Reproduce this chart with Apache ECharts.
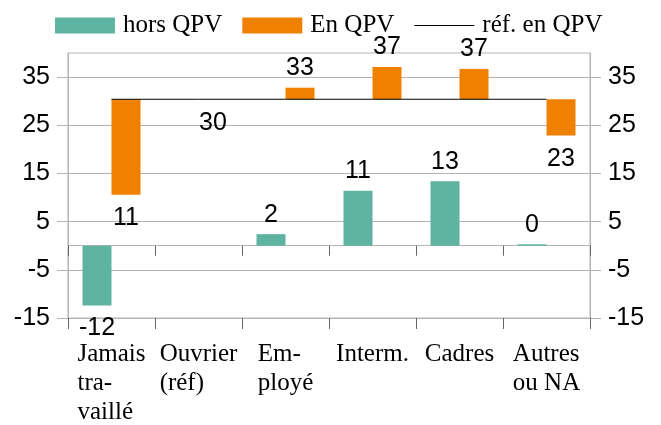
<!DOCTYPE html>
<html>
<head>
<meta charset="utf-8">
<script src="https://cdn.jsdelivr.net/npm/echarts@6/dist/echarts.min.js"></script>
<style>
  html, body { margin: 0; padding: 0; background: #fff; }
  #chart { width: 661px; height: 425px; }
</style>
</head>
<body>
<div id="chart"></div>
<script>
const categories = ['Jamais\ntra-\nvaillé', 'Ouvrier\n(réf)', 'Em-\nployé', 'Interm.', 'Cadres', 'Autres\nou NA']
const horsQPV = [-12.4, null, 2.4, 11.4, 13.4, 0.3]
const enQPV = [10.6, 30.4, 32.8, 37.1, 36.7, 22.9]
const refQPV = [30.4, 30.4, 30.4, 30.4, 30.4, 30.4]
const yTicks = [-15, -5, 5, 15, 25, 35]

const SANS = '"Liberation Sans", Arial, sans-serif'
const SERIF = '"Liberation Serif", "Times New Roman", serif'
const GRAY = '#b3b3b3'
const TEAL = '#5eb3a1'
const ORANGE = '#f08000'

// floating orange bars: invisible base + visible part from the reference line
const qpvBase = enQPV.map((v, i) => Math.min(v, refQPV[i]))
const qpvDelta = enQPV.map((v, i) => ({
  value: Math.abs(v - refQPV[i]),
  label: { position: v > refQPV[i] ? 'top' : 'bottom', distance: v > refQPV[i] ? 7 : 11 }
}))
const horsData = horsQPV.map(v => v === null ? null : ({
  value: v,
  label: { position: v < 0 ? 'bottom' : 'top', distance: v < 0 ? 10 : 7 }
}))

const labelFont = { fontFamily: SANS, fontSize: 25, color: '#000' }

const chart = echarts.init(document.getElementById('chart'))

const yAxisCommon = {
  type: 'value', min: -15, max: 40,
  axisLine: { show: true, lineStyle: { color: GRAY } },
  axisTick: { show: true, length: 11, lineStyle: { color: GRAY }, customValues: yTicks },
  axisLabel: { ...labelFont, margin: 18, customValues: yTicks }
}

chart.setOption({
  animation: false,
  legend: {
    left: 50, top: 8,
    itemWidth: 60, itemHeight: 16, itemGap: 20,
    textStyle: { fontFamily: SERIF, fontSize: 25, color: '#000', padding: [0, 0, 0, 3] },
    data: [
      { name: 'hors QPV', icon: 'rect' },
      { name: 'En QPV', icon: 'rect' },
      { name: 'réf. en QPV', icon: 'path://M0,0H60V1H0Z' }
    ]
  },
  grid: {
    left: 68, right: 71, top: 53, bottom: 107,
    show: true, borderColor: GRAY, borderWidth: 1
  },
  xAxis: [
    {
      type: 'category', data: categories, position: 'bottom',
      axisLine: { onZero: true, lineStyle: { color: GRAY } },
      axisTick: { show: true, length: 10, lineStyle: { color: '#666' } },
      axisLabel: { show: false }
    },
    {
      type: 'category', data: categories, position: 'bottom',
      axisLine: { show: false, onZero: false },
      axisTick: { show: true, length: 11, lineStyle: { color: '#666' } },
      axisLabel: {
        margin: 22, interval: 0,
        formatter: v => v.split('\n').map(s => '{l|' + s + '}').join('\n'),
        rich: { l: { align: 'left', fontFamily: SERIF, fontSize: 25, lineHeight: 29, color: '#000' } }
      }
    }
  ],
  yAxis: [
    { ...yAxisCommon, position: 'left', splitLine: { show: true, lineStyle: { color: GRAY } } },
    { ...yAxisCommon, position: 'right', splitLine: { show: false } }
  ],
  series: [
    {
      name: 'hors QPV', type: 'bar', data: horsData,
      barGap: '0%', barCategoryGap: '33.3%',
      itemStyle: { color: TEAL },
      label: { show: true, ...labelFont, formatter: p => Math.round(p.value) }
    },
    {
      name: 'base', type: 'bar', stack: 'qpv', data: qpvBase, silent: true,
      itemStyle: { color: 'transparent' }
    },
    {
      name: 'En QPV', type: 'bar', stack: 'qpv', data: qpvDelta,
      itemStyle: { color: ORANGE },
      label: { show: true, ...labelFont, formatter: p => Math.round(enQPV[p.dataIndex]) }
    },
    {
      name: 'réf. en QPV', type: 'line', data: refQPV,
      symbol: 'none', lineStyle: { color: '#000', width: 1 },
      itemStyle: { color: '#000' }, z: 5
    }
  ]
})
</script>
</body>
</html>
